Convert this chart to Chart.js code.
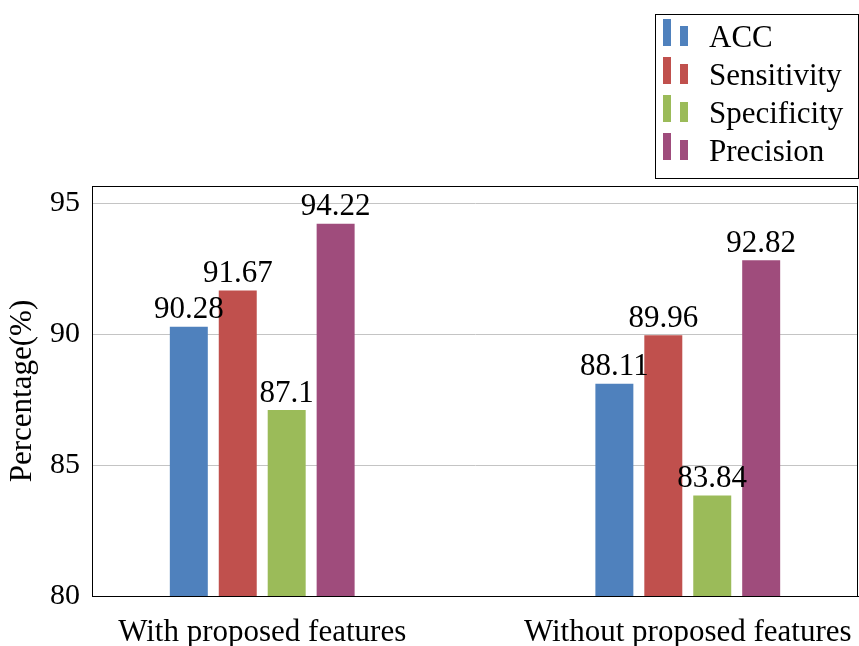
<!DOCTYPE html>
<html>
<head>
<meta charset="utf-8">
<script src="https://cdn.jsdelivr.net/npm/chart.js@4.4.0/dist/chart.umd.min.js"></script>
<style>
  html, body { margin: 0; padding: 0; background: #fff; }
  #wrap { width: 859px; height: 646px; }
</style>
</head>
<body>
<div id="wrap"><canvas id="myChart" width="859" height="646"></canvas></div>
<script>
// chart data
const categories = ['With proposed features', 'Without proposed features'];
const seriesNames = ['ACC', 'Sensitivity', 'Specificity', 'Precision'];
const accValues = [90.28, 88.11];
const sensitivityValues = [91.67, 89.96];
const specificityValues = [87.1, 83.84];
const precisionValues = [94.22, 92.82];
const yTicks = [80, 85, 90, 95];

const colors = ['#4f81bd', '#c0504d', '#9bbb59', '#9f4c7c'];
const serif = '"Liberation Serif", "DejaVu Serif", serif';

const allValues = [accValues, sensitivityValues, specificityValues, precisionValues];
const datasets = seriesNames.map((name, k) => ({
    label: name,
    data: allValues[k].map((v, i) => ({x: i, y: v})),
    backgroundColor: colors[k],
    borderWidth: 0,
    categoryPercentage: 0.46,
    barPercentage: 0.776
}));

// value labels above bars, frame box and legend box
const extras = {
    id: 'extras',
    afterDatasetsDraw(chart) {
        const ctx = chart.ctx;
        ctx.save();
        ctx.fillStyle = '#000';
        ctx.font = '31px ' + serif;
        ctx.textAlign = 'center';
        ctx.textBaseline = 'bottom';
        chart.data.datasets.forEach((ds, k) => {
            const meta = chart.getDatasetMeta(k);
            meta.data.forEach((bar, i) => {
                ctx.fillText(String(ds.data[i].y), bar.x, bar.y - 1);
            });
        });
        ctx.restore();
    },
    afterDraw(chart) {
        const ctx = chart.ctx;
        const a = chart.chartArea;
        ctx.save();
        ctx.strokeStyle = '#000';
        ctx.lineWidth = 1;
        ctx.strokeRect(a.left + 0.5, a.top + 0.5, a.right - a.left - 1, a.bottom - a.top);

        // legend
        const lx = 655, ly = 14, lw = 203, lh = 164;
        ctx.strokeRect(lx + 0.5, ly + 0.5, lw, lh);
        ctx.font = '31px ' + serif;
        ctx.textAlign = 'left';
        ctx.textBaseline = 'middle';
        chart.data.datasets.forEach((ds, k) => {
            const cy = 38 + k * 38;
            ctx.fillStyle = ds.backgroundColor;
            ctx.fillRect(663, cy - 19, 8, 27);
            ctx.fillRect(680, cy - 12, 8, 20);
            ctx.fillStyle = '#000';
            ctx.fillText(ds.label, 709, cy + 1);
        });
        ctx.restore();
    }
};

const ctx = document.getElementById('myChart').getContext('2d');
const chart = new Chart(ctx, {
    type: 'bar',
    data: {datasets: datasets},
    plugins: [extras],
    options: {
        responsive: false,
        animation: false,
        layout: {padding: {top: 186, right: 1, left: 0, bottom: 0}},
        plugins: {
            legend: {display: false},
            tooltip: {enabled: false}
        },
        scales: {
            x: {
                type: 'linear',
                min: -0.4,
                max: 1.4,
                offset: false,
                afterBuildTicks: (s) => { s.ticks = categories.map((c, i) => ({value: i})); },
                afterFit: (s) => { s.height = 50; s.paddingLeft = 0; s.paddingRight = 0; },
                grid: {display: false, offset: false},
                border: {display: true, color: '#000'},
                ticks: {
                    color: '#000',
                    font: {family: serif, size: 31},
                    padding: 10,
                    maxRotation: 0,
                    callback: (v) => categories[v]
                }
            },
            y: {
                min: 80,
                max: 95.66,
                afterBuildTicks: (s) => { s.ticks = yTicks.map(v => ({value: v})); },
                afterFit: (s) => { s.width = 92; s.paddingTop = 0; s.paddingBottom = 0; },
                grid: {color: '#c4c4c4', drawTicks: false},
                border: {display: true, color: '#000'},
                ticks: {
                    color: '#000',
                    font: {family: serif, size: 30},
                    padding: 12
                },
                title: {
                    display: true,
                    text: 'Percentage(%)',
                    color: '#000',
                    font: {family: serif, size: 31},
                    padding: {top: 4, bottom: 0}
                }
            }
        }
    }
});
</script>
</body>
</html>
